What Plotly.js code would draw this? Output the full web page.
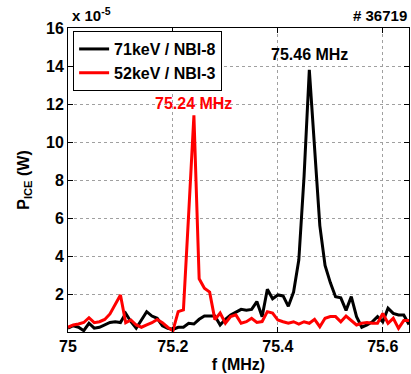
<!DOCTYPE html>
<html>
<head>
<meta charset="utf-8">
<script src="https://cdn.plot.ly/plotly-3.0.1.min.js"></script>
<style>html,body{margin:0;padding:0;background:#fff;}#chart{width:411px;height:374px;}</style>
</head>
<body>
<div id="chart"></div>
<script>
// frequency axis (MHz)
const freq = [75.00,75.01,75.02,75.03,75.04,75.05,75.06,75.07,75.08,75.09,
  75.10,75.11,75.12,75.13,75.14,75.15,75.16,75.17,75.18,75.19,
  75.20,75.21,75.22,75.23,75.24,75.25,75.26,75.27,75.28,75.29,
  75.30,75.31,75.32,75.33,75.34,75.35,75.36,75.37,75.38,75.39,
  75.40,75.41,75.42,75.43,75.44,75.45,75.46,75.47,75.48,75.49,
  75.50,75.51,75.52,75.53,75.54,75.55,75.56,75.57,75.58,75.59,
  75.60,75.61,75.62,75.63,75.64,75.65];
// P_ICE in units of 1e-5 W
const p71keV = [0.20,0.33,0.25,0.07,0.46,0.20,0.25,0.37,0.50,0.54,
  0.50,0.98,0.54,0.20,0.63,1.07,0.84,0.72,0.33,0.20,
  0.14,0.25,0.25,0.46,0.42,0.67,0.84,0.84,0.84,0.37,
  0.67,0.89,1.02,1.19,1.15,1.19,1.60,0.80,2.25,1.75,
  1.95,1.90,1.35,2.10,3.80,8.20,13.80,9.80,5.60,3.50,
  2.60,1.86,1.80,1.14,1.86,0.81,0.25,0.37,0.54,0.81,
  0.54,1.25,0.98,0.90,0.90,0.40];
const p52keV = [0.25,0.37,0.42,0.50,0.75,0.49,0.54,0.66,0.95,1.42,
  1.95,0.49,0.63,0.37,0.25,0.37,0.49,0.66,0.49,0.25,
  0.07,1.07,1.16,6.20,11.40,2.80,2.30,2.10,0.65,1.00,
  0.46,0.81,0.90,0.46,0.54,0.72,0.50,0.55,1.07,1.00,
  0.63,0.54,0.46,0.54,0.42,0.54,0.46,0.67,0.28,0.72,
  0.81,0.81,0.54,0.84,0.60,0.37,0.46,0.50,0.46,0.46,
  0.98,0.46,0.72,0.19,0.60,0.60];
const seriesNames = ['71keV / NBI-8', '52keV / NBI-3'];
const xTicks = [75, 75.2, 75.4, 75.6];
const xTickText = ['75', '75.2', '75.4', '75.6'];
const yTicks = [2, 4, 6, 8, 10, 12, 14, 16];
const yTickText = ['2', '4', '6', '8', '10', '12', '14', '16'];
const peakLabels = [{f: 75.46, v: 13.8, text: '75.46 MHz', color: '#000', shift: 5},
                    {f: 75.24, v: 11.4, text: '75.24 MHz', color: '#ff0000', shift: 1}];

const FONT = 'Liberation Sans, Arial, sans-serif';
const traces = [
  {x: freq, y: p71keV, name: seriesNames[0], type: 'scatter', mode: 'lines',
   line: {color: '#000000', width: 3}},
  {x: freq, y: p52keV, name: seriesNames[1], type: 'scatter', mode: 'lines',
   line: {color: '#ff0000', width: 3}}
];
const axisCommon = {
  showline: true, linecolor: '#000', linewidth: 1, mirror: 'ticks',
  ticks: 'inside', ticklen: 5, tickcolor: '#000', tickwidth: 1,
  showgrid: true, gridcolor: '#a0a0a0', griddash: 'dot', gridwidth: 1,
  zeroline: false, tickfont: {family: FONT, size: 16, color: '#000', weight: 'bold'}
};
const layout = {
  width: 411, height: 374,
  margin: {l: 68, r: 2, t: 28, b: 42},
  paper_bgcolor: '#fff', plot_bgcolor: '#fff',
  showlegend: true,
  legend: {x: 0.015, y: 0.99, xanchor: 'left', yanchor: 'top',
    bgcolor: '#fff', bordercolor: '#000', borderwidth: 1,
    font: {family: FONT, size: 16, color: '#000', weight: 'bold'},
    tracegroupgap: 0, itemwidth: 30},
  xaxis: Object.assign({}, axisCommon, {
    range: [75, 75.65], tickvals: xTicks, ticktext: xTickText,
    title: {text: 'f (MHz)', font: {family: FONT, size: 16, color: '#000', weight: 'bold'}, standoff: 4}
  }),
  yaxis: Object.assign({}, axisCommon, {
    range: [0, 16], tickvals: yTicks, ticktext: yTickText,
    title: {text: 'P<sub>ICE</sub> (W)', font: {family: FONT, size: 16, color: '#000', weight: 'bold'}, standoff: 12}
  }),
  annotations: [
    {xref: 'paper', yref: 'paper', x: 0.005, y: 1.0, xanchor: 'left', yanchor: 'bottom',
     text: 'x 10<sup>-5</sup>', showarrow: false, yshift: 2,
     font: {family: FONT, size: 15, color: '#000', weight: 'bold'}},
    {xref: 'paper', yref: 'paper', x: 1.0, y: 1.0, xanchor: 'right', yanchor: 'bottom',
     text: '# 36719', showarrow: false, yshift: 2,
     font: {family: FONT, size: 15, color: '#000', weight: 'bold'}}
  ].concat(peakLabels.map(p => ({
     x: p.f, y: p.v, xref: 'x', yref: 'y', text: p.text, showarrow: false,
     xanchor: 'center', yanchor: 'bottom', yshift: p.shift,
     font: {family: FONT, size: 16, color: p.color, weight: 'bold'}})))
};
Plotly.newPlot('chart', traces, layout, {displayModeBar: false, staticPlot: true});
</script>
</body>
</html>
